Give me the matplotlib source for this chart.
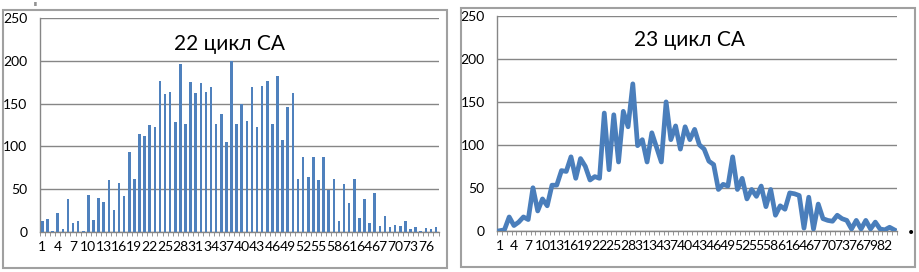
import matplotlib
matplotlib.use("Agg")
import matplotlib.pyplot as plt
from matplotlib.patches import Rectangle
from matplotlib.ticker import FixedLocator, NullFormatter

# cycle 22: one bar per interval
cycle22 = [13, 15, 1, 22, 3, 38, 10, 13, 1, 43,
           14, 39, 35, 61, 26, 57, 42, 93, 62, 114,
           112, 125, 123, 177, 161, 164, 129, 197, 126, 175,
           162, 174, 164, 170, 126, 138, 105, 200, 126, 150,
           130, 170, 123, 171, 176, 126, 182, 108, 146, 163,
           62, 87, 64, 87, 61, 87, 49, 62, 12, 56,
           34, 62, 16, 38, 10, 45, 7, 18, 5, 8,
           7, 12, 3, 5, 1, 4, 3, 5]

# cycle 23: line
cycle23 = [0, 1, 16, 6, 10, 16, 13, 50, 23, 37,
           29, 53, 53, 70, 69, 86, 61, 84, 75, 59,
           63, 61, 137, 71, 135, 80, 139, 121, 171, 99,
           106, 80, 114, 97, 80, 150, 106, 122, 95, 121,
           106, 118, 100, 95, 81, 77, 48, 54, 52, 86,
           48, 61, 37, 48, 40, 52, 28, 48, 18, 29,
           25, 44, 43, 41, 3, 39, 2, 31, 14, 12,
           11, 18, 14, 12, 2, 12, 2, 12, 2, 10,
           2, 1, 4, 1]

titles = ["22 цикл СА", "23 цикл СА"]
y_ticks = [0, 50, 100, 150, 200, 250]

W, H = 919, 272
BAR = "#4f81bd"
LINE = "#4a7ebb"
GRID = "#868686"
FRAME = "#a0a0a0"
FONT = "Lato"


def px_axes(fig, x0, y0, x1, y1):
    """axes from pixel box (top-left origin)"""
    return fig.add_axes([x0 / W, (H - y1) / H, (x1 - x0) / W, (y1 - y0) / H])


def style(ax, n, title, tx, ty):
    ax.set_ylim(0, 250)
    ax.set_xlim(-0.5, n - 0.5)
    ax.set_yticks(y_ticks)
    ax.yaxis.grid(True, color=GRID, lw=1.0)
    ax.set_axisbelow(True)
    for s in ("top", "right"):
        ax.spines[s].set_visible(False)
    for s in ("left", "bottom"):
        ax.spines[s].set_color(GRID)
        ax.spines[s].set_linewidth(1.0)
    idx = list(range(0, n, 3))
    ax.set_xticks(idx)
    ax.set_xticklabels([str(i + 1) for i in idx], fontsize=10, family=FONT)
    ax.xaxis.set_minor_locator(FixedLocator([i - 0.5 for i in range(n + 1)]))
    ax.xaxis.set_minor_formatter(NullFormatter())
    ax.tick_params(axis="x", which="major", length=0, pad=7)
    ax.tick_params(axis="x", which="minor", length=3, color=GRID, direction="out")
    ax.tick_params(axis="y", length=0, pad=9, labelsize=10)
    for lab in ax.get_yticklabels():
        lab.set_family(FONT)
    ax.text(tx, ty, title, transform=ax.transAxes, ha="center", va="center",
            fontsize=15, family=FONT)


fig = plt.figure(figsize=(W / 100, H / 100), dpi=100)
fig.patch.set_facecolor("white")

# panel frames
fig.add_artist(Rectangle((3 / W, (H - 268) / H), 444 / W, 258 / H,
                         transform=fig.transFigure, fill=False,
                         edgecolor=FRAME, lw=1.5))
fig.add_artist(Rectangle((461 / W, (H - 267) / H), 454 / W, 259 / H,
                         transform=fig.transFigure, fill=False,
                         edgecolor=FRAME, lw=1.5))

ax1 = px_axes(fig, 39.8, 18.3, 438.6, 231.7)
x1 = list(range(len(cycle22)))
ax1.bar(x1, cycle22, width=0.5, color=BAR, zorder=3)
style(ax1, len(cycle22), titles[0], 0.475, 0.88)

ax2 = px_axes(fig, 497.3, 16.0, 896.7, 230.7)
x2 = list(range(len(cycle23)))
ax2.plot(x2, cycle23, color=LINE, lw=3.4, solid_joinstyle="round", zorder=3)
style(ax2, len(cycle23), titles[1], 0.48, 0.89)

# stray marks in the scan
fig.text(35 / W, 1 - 4 / H, "ıı", fontsize=5, ha="center", va="center")
fig.text(911 / W, 1 - 233 / H, "•", fontsize=10, ha="center", va="center")

fig.savefig("out.png", dpi=100, facecolor="white")
